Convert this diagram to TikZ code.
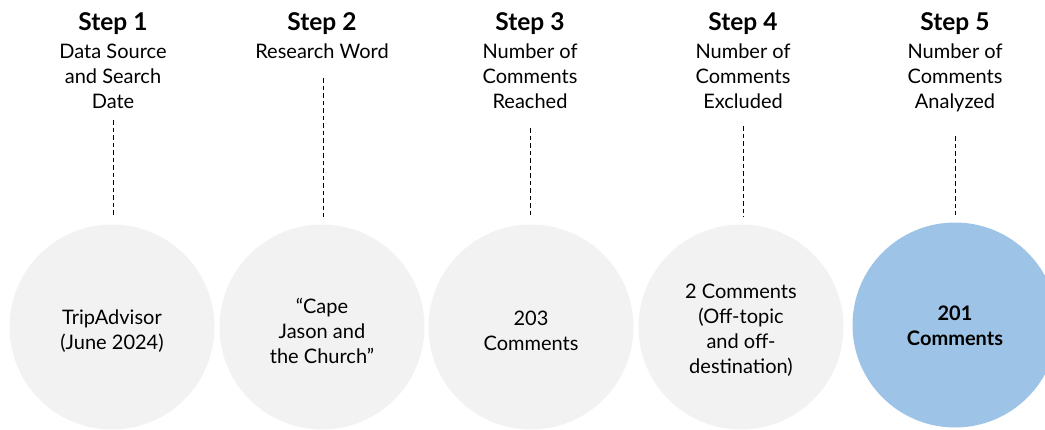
\documentclass[tikz,border=0pt]{standalone}
\usepackage{fontspec}
\setmainfont{Lato}
\definecolor{circgray}{HTML}{F2F2F2}
\definecolor{circblue}{HTML}{9DC3E6}
\begin{document}
\begin{tikzpicture}[x=1pt,y=-1pt,
  head/.style={font=\fontsize{24.5}{28}\selectfont\bfseries, anchor=center},
  sub/.style={font=\fontsize{20}{25}\selectfont, align=center, anchor=north},
  circ/.style={circle, minimum size=205pt, inner sep=0pt, fill=circgray},
  ctext/.style={align=center, font=\fontsize{20}{25}\selectfont, inner sep=0pt},
  conn/.style={draw=black, line width=1pt, dash pattern=on 4.5pt off 3pt, shorten >=7pt}]
\useasboundingbox (0,0) rectangle (1045,429);
\clip (0,0) rectangle (1045,429);
% headings
\node[head] (h1) at (113,24) {Step 1};
\node[head] (h2) at (322,24) {Step 2};
\node[head] (h3) at (530,24) {Step 3};
\node[head] (h4) at (743,24) {Step 4};
\node[head] (h5) at (955,24) {Step 5};
\node[sub] (s1) at (113,40) {Data Source\\and Search\\Date};
\node[sub] (s2) at (322,40) {Research Word};
\node[sub] (s3) at (530,40) {Number of\\Comments\\Reached};
\node[sub] (s4) at (743,40) {Number of\\Comments\\Excluded};
\node[sub] (s5) at (955,40) {Number of\\Comments\\Analyzed};
% circles
\node[circ] (c1) at (112,327) {};
\node[circ] (c2) at (322,327) {};
\node[circ] (c3) at (531,327) {};
\node[circ] (c4) at (741,327) {};
\node[circ, fill=circblue] (c5) at (955,325) {};
\node[ctext] (l1) at ([yshift=-4pt]c1.center) {TripAdvisor\\(June 2024)};
\node[ctext] (l2) at ([yshift=-4pt]c2.center) {\textquotedblleft Cape\\Jason and\\the Church\textquotedblright};
\node[ctext] (l3) at ([yshift=-4pt]c3.center) {203\\Comments};
\node[ctext] (l4) at ([yshift=-3pt]c4.center) {2 Comments\\(Off-topic\\and off-\\destination)};
\node[ctext, font=\fontsize{20}{25}\selectfont\bfseries] (l5) at ([yshift=-1pt]c5.center) {201\\Comments};
% connectors
\coordinate (t1) at (113,120);
\coordinate (t2) at (323,78);
\coordinate (t3) at (530,128);
\coordinate (t4) at (743,126);
\coordinate (t5) at (955,136);
\draw[conn] (t1) -- (c1.north -| t1);
\draw[conn] (t2) -- (c2.north -| t2);
\draw[conn] (t3) -- (c3.north -| t3);
\draw[conn] (t4) -- (c4.north -| t4);
\draw[conn] (t5) -- (c5.north -| t5);
\end{tikzpicture}
\end{document}
